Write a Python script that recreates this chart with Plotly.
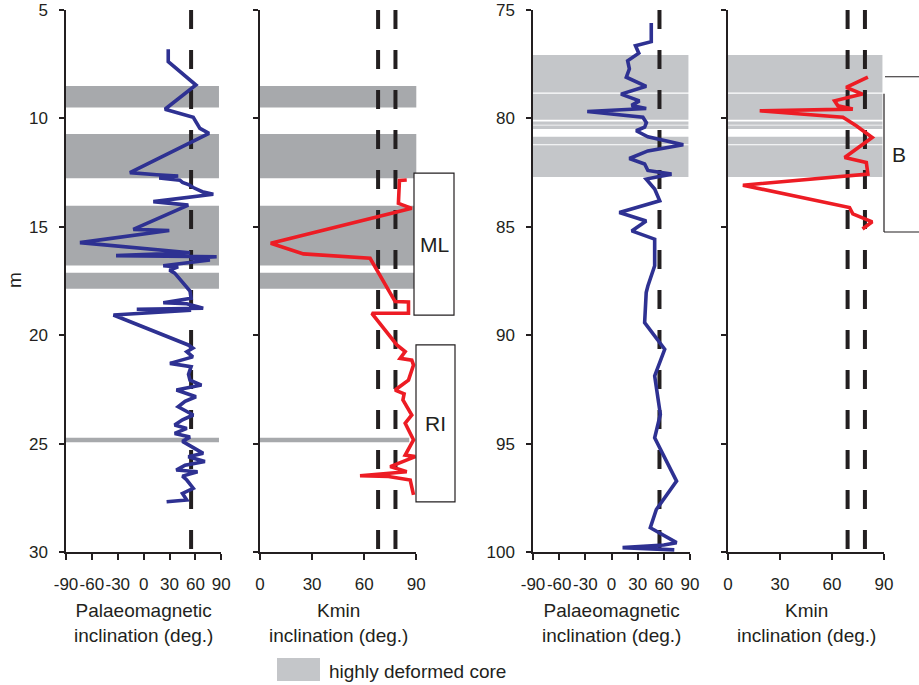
import plotly.graph_objects as go

# ---------------- data ----------------
# Panel 1: palaeomagnetic inclination, 5-30 m
pm1_depth = [6.81, 7.38, 8.46, 9.58, 9.95, 10.46, 10.69, 12.50, 12.60, 12.66, 12.75, 12.85, 12.95,
             13.05, 13.20, 13.38, 13.50, 13.84, 14.00, 15.12, 15.17, 15.73, 16.20, 16.33, 16.38,
             16.45, 16.53, 16.80, 16.85, 17.00, 17.14, 17.84, 17.96, 18.30, 18.50, 18.55, 18.76,
             18.80, 18.85, 19.07, 20.45, 20.60, 20.76, 21.00, 21.30, 21.45, 21.80, 22.07, 22.30,
             22.53, 22.84, 23.05, 23.30, 23.68, 23.90, 24.14, 24.30, 24.53, 24.70, 24.90, 25.20,
             25.45, 25.61, 25.83, 26.00, 26.22, 26.30, 26.50, 26.68, 26.90, 27.06, 27.30, 27.60, 27.68]
pm1_incl = [28.5, 28.5, 60.6, 24.7, 57.5, 65.2, 75.7, -15.9, 15.0, 40.0, 18.0, 42.0, 45.0,
            52.0, 58.0, 68.0, 80.7, 11.2, 51.7, -12.0, 29.7, -73.8, 53.7, -32.0, 84.6,
            53.7, 76.8, 22.7, 40.0, 30.0, 36.0, 51.7, 53.7, 55.0, 22.7, 50.0, 69.0,
            -8.0, 55.0, -35.0, 51.7, 57.0, 50.0, 57.0, 30.5, 55.0, 52.0, 53.7, 67.0,
            38.0, 60.6, 48.0, 40.0, 57.5, 45.0, 35.9, 50.0, 36.0, 53.7, 45.0, 58.0,
            69.0, 51.7, 71.0, 48.0, 37.8, 62.5, 45.0, 50.0, 55.0, 57.5, 45.0, 50.0, 26.6]

# Panel 2: Kmin inclination, 5-30 m
km1_depth = [12.84, 12.86, 13.92, 14.15, 15.76, 16.25, 16.45, 17.90, 18.45, 18.47, 18.99, 18.99,
             20.45, 20.76, 21.07, 21.15, 21.38, 22.07, 22.53, 22.70, 22.99, 23.68, 24.06, 24.83,
             25.53, 25.60, 26.06, 26.30, 26.40, 26.48, 26.52, 26.68, 27.37]
km1_incl = [84.5, 80.3, 79.7, 87.4, 6.2, 25.0, 63.4, 74.0, 77.8, 85.5, 85.5, 64.4,
            78.8, 83.6, 80.7, 87.4, 88.4, 85.5, 77.8, 83.0, 82.3, 87.4, 83.6, 88.4,
            83.6, 89.4, 75.0, 84.5, 72.0, 57.6, 74.0, 86.5, 88.4]

# Panel 3: palaeomagnetic inclination, 75-100 m
pm2_depth = [75.60, 76.46, 76.65, 76.99, 77.34, 77.72, 78.10, 78.52, 78.88, 79.19, 79.40, 79.54,
             79.68, 79.95, 80.20, 80.40, 80.57, 80.85, 81.22, 81.50, 81.85, 82.10, 82.40, 82.57,
             82.80, 83.26, 83.80, 84.34, 84.73, 85.19, 85.57, 86.80, 87.73, 88.03, 89.42, 90.65,
             91.88, 93.65, 94.73, 96.73, 98.04, 98.88, 99.57, 99.68, 99.80, 99.90]
pm2_incl = [45.6, 45.6, 27.5, 31.3, 18.5, 20.5, 17.0, 39.8, 10.9, 32.0, 23.0, 39.8,
            -27.8, 36.0, 40.0, 38.0, 28.3, 41.7, 82.3, 41.7, 20.5, 38.0, 41.7, 68.8,
            39.8, 49.5, 55.3, 9.0, 39.8, 23.2, 49.5, 49.5, 41.7, 39.8, 38.0, 61.0,
            49.5, 56.0, 49.5, 74.6, 51.4, 44.5, 74.6, 60.0, 12.7, 72.0]

# Panel 4: Kmin inclination, 75-100 m
km2_depth = [78.10, 78.57, 78.88, 79.19, 79.42, 79.57, 79.65, 79.95, 80.34, 80.88, 81.80, 82.03,
             82.57, 83.08, 84.11, 84.40, 84.77, 85.10]
km2_incl = [80.7, 68.2, 77.6, 61.5, 63.4, 72.0, 18.3, 66.3, 74.0, 83.2, 67.3, 79.8,
            80.7, 8.6, 70.1, 72.0, 83.2, 77.6]

# reference inclinations (dashed lines)
pm_ref = [55]
km_ref_upper = [68, 78]
km_ref_lower = [69, 79]

# highly deformed core intervals (m)
bands_upper = [(8.5, 9.5), (10.72, 12.76), (14.03, 16.79), (17.12, 17.86), (24.73, 24.94)]
bands_lower = [(77.08, 78.80), (78.86, 80.06), (80.14, 80.29), (80.33, 80.49), (80.85, 81.19),
               (81.24, 82.70)]

# lithological units
units_upper = [("ML", 12.52, 19.07), ("RI", 20.45, 27.69)]
unit_lower = ("B", 78.08, 85.24)

upper_range = [5, 30]
lower_range = [75, 100]
pm_ticks = [-90, -60, -30, 0, 30, 60, 90]
pm_ticktext = ["-90", "-60", "-30", "0", "30", "60", "90"]
km_ticks = [0, 30, 60, 90]
upper_ticks = [5, 10, 15, 20, 25, 30]
lower_ticks = [75, 80, 85, 90, 95, 100]

# ---------------- styling ----------------
W, H = 919, 685
OFF = 0  # body margin removed by post_script below
INK = "#231f20"
BLUE = "#2e3192"
RED = "#ed1c24"
BAND_DARK = "#a7a9ac"
BAND_LIGHT = "#c4c6c9"
FONT = "Liberation Sans, Arial, sans-serif"

def px(v):
    return (v - OFF) / W

def py(v):
    return 1 - (v - OFF) / H

ydom = [py(552), py(10)]
xdoms = [[px(66), px(221.3)], [px(260), px(416.3)], [px(533), px(690)], [px(728), px(884)]]

fig = go.Figure()

def add_line(xs, ys, color, xa, ya, width=3.6):
    fig.add_trace(go.Scatter(x=xs, y=ys, mode="lines", line=dict(color=color, width=width),
                             xaxis=xa, yaxis=ya, showlegend=False, hoverinfo="skip"))

def add_ref(val, rng, xa, ya):
    fig.add_trace(go.Scatter(x=[val, val], y=rng, mode="lines",
                             line=dict(color=INK, width=4, dash="19px,21px"),
                             xaxis=xa, yaxis=ya, showlegend=False, hoverinfo="skip"))

# bands
shapes = []
for (a, b) in bands_upper:
    for xr, yr, x1 in (("x domain", "y", 0.985), ("x2 domain", "y2", 1.0)):
        if (a, b) == bands_upper[-1] and xr == "x2 domain":
            x1 = 0.955
        shapes.append(dict(type="rect", xref=xr, yref=yr, x0=0, x1=x1, y0=a, y1=b,
                           fillcolor=BAND_DARK, line=dict(width=0), layer="below"))
for (a, b) in bands_lower:
    for xr, yr in (("x3 domain", "y3"), ("x4 domain", "y4")):
        shapes.append(dict(type="rect", xref=xr, yref=yr, x0=0, x1=0.99, y0=a, y1=b,
                           fillcolor=BAND_LIGHT, line=dict(width=0), layer="below"))

# data lines
add_ref(pm_ref[0], upper_range, "x", "y")
add_line(pm1_incl, pm1_depth, BLUE, "x", "y")
for v in km_ref_upper:
    add_ref(v, upper_range, "x2", "y2")
add_line(km1_incl, km1_depth, RED, "x2", "y2")
add_ref(pm_ref[0], lower_range, "x3", "y3")
add_line(pm2_incl, pm2_depth, BLUE, "x3", "y3")
for v in km_ref_lower:
    add_ref(v, lower_range, "x4", "y4")
add_line(km2_incl, km2_depth, RED, "x4", "y4")

annotations = []
# unit boxes
box_x = [(px(414), px(454)), (px(416), px(455))]
for (name, top, bot), (bx0, bx1) in zip(units_upper, box_x):
    shapes.append(dict(type="rect", xref="paper", yref="y2", x0=bx0, x1=bx1, y0=top, y1=bot,
                       fillcolor="white", line=dict(color=INK, width=1.2), layer="above"))
    annotations.append(dict(text=name, xref="paper", yref="y2", x=(bx0 + bx1) / 2,
                            y=(top + bot) / 2, xanchor="center", yanchor="middle", showarrow=False,
                            font=dict(size=21, color=INK, family=FONT)))
bname, btop, bbot = unit_lower
shapes.append(dict(type="line", xref="paper", yref="y4", x0=px(885), x1=1.0, y0=btop, y1=btop,
                   line=dict(color=INK, width=1.2)))
shapes.append(dict(type="line", xref="paper", yref="y4", x0=px(884), x1=px(884), y0=78.86, y1=bbot,
                   line=dict(color=INK, width=1.2)))
shapes.append(dict(type="line", xref="paper", yref="y4", x0=px(884), x1=1.0, y0=bbot, y1=bbot,
                   line=dict(color=INK, width=1.2)))
annotations.append(dict(text=bname, xref="paper", yref="y4", x=px(899), y=(btop + bbot) / 2,
                        xanchor="center", yanchor="middle",
                        showarrow=False, font=dict(size=21, color=INK, family=FONT)))

# axis titles
titles = ["Palaeomagnetic<br>inclination (deg.)", "Kmin<br>inclination (deg.)",
          "Palaeomagnetic<br>inclination (deg.)", "Kmin<br>inclination (deg.)"]
for dom, t in zip(xdoms, titles):
    annotations.append(dict(text=t, xref="paper", yref="paper", x=(dom[0] + dom[1]) / 2,
                            y=py(598), xanchor="center", yanchor="top", showarrow=False,
                            font=dict(size=19, color=INK, family=FONT)))
annotations.append(dict(text="m", xref="paper", yref="paper", x=px(15), y=py(280),
                        xanchor="center", yanchor="middle",
                        textangle=-90, showarrow=False, font=dict(size=19, color=INK, family=FONT)))

# legend swatch
shapes.append(dict(type="rect", xref="paper", yref="paper", x0=px(277), x1=px(320),
                   y0=py(681), y1=py(658), fillcolor=BAND_LIGHT, line=dict(width=0)))
annotations.append(dict(text="highly deformed core", xref="paper", yref="paper", x=px(327),
                        y=py(671), xanchor="left", yanchor="middle", showarrow=False,
                        font=dict(size=19, color=INK, family=FONT)))

axis_common = dict(showline=True, linecolor=INK, linewidth=1.5, ticks="outside", ticklen=6,
                   tickwidth=1.5, tickcolor=INK, showgrid=False, zeroline=False, automargin=False,
                   tickangle=0, tickfont=dict(size=17, color=INK, family=FONT), fixedrange=True,
                   ticklabeloverflow="allow")

layout = dict(width=W, height=H, margin=dict(l=0, r=0, t=0, b=0, autoexpand=False),
              plot_bgcolor="white", paper_bgcolor="white", font=dict(family=FONT, color=INK),
              showlegend=False, shapes=shapes, annotations=annotations)

for i, dom in enumerate(xdoms):
    n = "" if i == 0 else str(i + 1)
    is_pm = i in (0, 2)
    layout["xaxis" + n] = dict(axis_common, domain=dom, anchor="y" + n,
                               range=[-90, 90] if is_pm else [0, 90],
                               tickvals=pm_ticks if is_pm else km_ticks,
                               ticktext=pm_ticktext if is_pm else [str(t) for t in km_ticks],
                               ticklabelstandoff=10)
    upper = i < 2
    layout["yaxis" + n] = dict(axis_common, domain=ydom, anchor="x" + n,
                               range=[upper_range[1], upper_range[0]] if upper else [lower_range[1], lower_range[0]],
                               tickvals=upper_ticks if upper else lower_ticks,
                               showticklabels=(i in (0, 2)), ticklen=5, ticklabelstandoff=8)

fig.update_layout(**layout)
fig.write_html("out.html", config={"displayModeBar": False},
               post_script="document.body.style.margin='0px';")
